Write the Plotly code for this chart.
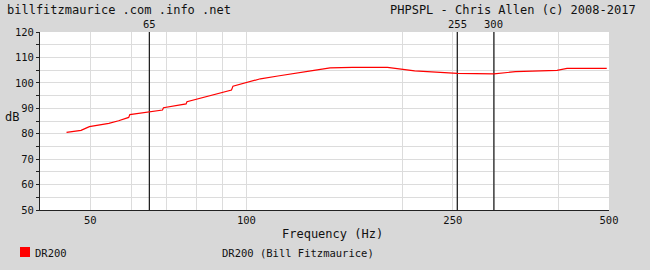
import numpy as np
import plotly.graph_objects as go

# Data
freq = [45, 48, 49.8, 54.3, 56.7, 59.3, 59.6, 65, 68.9, 69.2, 76.5, 76.8, 86, 93.6, 94.2,
        100, 106.4, 115, 124.9, 135, 145, 160, 187, 200, 211, 255, 300, 330, 397, 415, 495]
spl = [80.5, 81.3, 82.8, 84.1, 85.1, 86.4, 87.5, 88.7, 89.3, 90.2, 91.7, 92.6, 95.2, 97.2, 98.7,
       100.2, 101.6, 102.7, 103.7, 104.9, 105.9, 106.1, 106.1, 105.4, 104.7, 103.7, 103.5, 104.4, 104.9, 105.7, 105.7]
markers = [65, 255, 300]
x_labels = [50, 100, 250, 500]
x_grid = [50, 60, 70, 80, 90, 100, 200, 250, 300, 400, 500]
y_ticks = list(range(50, 121, 5))

L, R, T, B = 40, 609, 32, 210
W, H = 650, 270

def px(x):
    return (x - L) / (R - L)

def py(y):
    return (B - y) / (B - T)

mono = "DejaVu Sans Mono"
fc = "#111111"

fig = go.Figure()
for m in markers:
    fig.add_trace(go.Scatter(x=[m, m], y=[50, 120], mode="lines",
                             line=dict(color="#222222", width=1.3), hoverinfo="skip", showlegend=False))
fig.add_trace(go.Scatter(x=freq, y=spl, mode="lines", line=dict(color="#ff0000", width=1.2),
                         name="DR200", showlegend=False))

fig.update_layout(
    width=W, height=H,
    margin=dict(l=L, r=W - R, t=T, b=H - B, pad=0),
    paper_bgcolor="#d8d8d8", plot_bgcolor="#ffffff",
    font=dict(family=mono, size=10, color=fc),
    xaxis=dict(type="log", range=[np.log10(40), np.log10(500)],
               tickvals=x_grid,
               ticktext=[str(v) if v in x_labels else "" for v in x_grid],
               showgrid=True, gridcolor="#dcdcdc", gridwidth=1,
               showline=True, linecolor="#222222", linewidth=1,
               ticks="", zeroline=False, tickfont=dict(size=10.5, family=mono)),
    yaxis=dict(range=[50, 120], tickvals=y_ticks,
               ticktext=[str(v) if v % 10 == 0 else "" for v in y_ticks],
               showgrid=True, gridcolor="#dcdcdc", gridwidth=1,
               showline=True, linecolor="#222222", linewidth=1,
               ticks="outside", ticklen=3, tickcolor="#222222",
               zeroline=False, tickfont=dict(size=10.5, family=mono)),
)

ann = []
def text(x, y, s, size, xanchor="left"):
    ann.append(dict(x=px(x), y=py(y), xref="paper", yref="paper", text=s, showarrow=False,
                    xanchor=xanchor, yanchor="middle", font=dict(family=mono, size=size, color=fc)))

text(5, 10, "billfitzmaurice .com .info .net", 12)
text(638, 10, "PHPSPL - Chris Allen (c) 2008-2017", 12, "right")
text(333, 234, "Frequency (Hz)", 12, "center")
text(3, 117, "dB", 12)
text(33, 253, "DR200", 10.5)
text(220, 253, "DR200 (Bill Fitzmaurice)", 10.5)
for m in markers:
    ann.append(dict(x=np.log10(m), y=py(24), xref="x", yref="paper", text=str(m), showarrow=False,
                    xanchor="center", yanchor="middle", font=dict(family=mono, size=10.5, color=fc)))
fig.update_layout(annotations=ann)

fig.add_shape(type="rect", xref="paper", yref="paper",
              x0=px(20), x1=px(30), y0=py(257), y1=py(247),
              fillcolor="#ff0000", line=dict(width=0))

fig.write_html("out.html")
